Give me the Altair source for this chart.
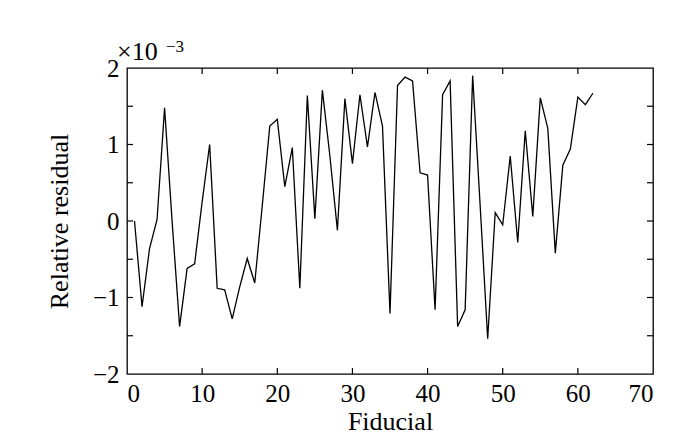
import altair as alt
import pandas as pd

# Relative residual (units of 1e-3) per fiducial index
fiducial = list(range(1, 63))
residual = [0.0, -1.12, -0.36, 0.02, 1.48, 0.0, -1.38, -0.62, -0.56, 0.25,
            1.0, -0.88, -0.9, -1.28, -0.86, -0.49, -0.81, 0.2, 1.24, 1.33,
            0.45, 0.96, -0.88, 1.64, 0.03, 1.71, 0.85, -0.12, 1.6, 0.75,
            1.65, 0.97, 1.68, 1.24, -1.21, 1.77, 1.88, 1.83, 0.63, 0.6,
            -1.16, 1.65, 1.83, -1.38, -1.16, 1.9, 0.2, -1.54, 0.11, -0.05,
            0.85, -0.28, 1.18, 0.06, 1.61, 1.21, -0.42, 0.73, 0.94, 1.62,
            1.52, 1.67]

x_labels = [0, 10, 20, 30, 40, 50, 60, 70]
y_labels = [-2, -1, 0, 1, 2]
x_ticks = [10, 20, 30, 40, 50, 60]
y_ticks = [-1.5, -1, -0.5, 0, 0.5, 1, 1.5]

W, H = 526, 306
FONT = "Liberation Serif"
TL = 6

df = pd.DataFrame({"x": fiducial, "y": residual})
dfx = pd.DataFrame({"x": x_ticks})
dfy = pd.DataFrame({"y": y_ticks})

xscale = alt.Scale(domain=[0, 70], nice=False, zero=False)
yscale = alt.Scale(domain=[-2, 2], nice=False, zero=False)

xaxis = alt.Axis(values=x_labels, format="d", labelPadding=7, titlePadding=2)
yaxis = alt.Axis(values=y_labels, format="d", labelPadding=8, titlePadding=20)

line = alt.Chart(df).mark_line(color="black", strokeWidth=1.3).encode(
    x=alt.X("x:Q", scale=xscale, axis=xaxis, title="Fiducial"),
    y=alt.Y("y:Q", scale=yscale, axis=yaxis, title="Relative residual"),
)

tick_style = dict(color="black", strokeWidth=1.2)
xb = alt.Chart(dfx).mark_rule(**tick_style).encode(
    x=alt.X("x:Q", scale=xscale, title="Fiducial"), y=alt.value(H), y2=alt.value(H - TL))
xt = alt.Chart(dfx).mark_rule(**tick_style).encode(
    x=alt.X("x:Q", scale=xscale, title="Fiducial"), y=alt.value(0), y2=alt.value(TL))
yl = alt.Chart(dfy).mark_rule(**tick_style).encode(
    y=alt.Y("y:Q", scale=yscale, title="Relative residual"), x=alt.value(0), x2=alt.value(TL))
yr = alt.Chart(dfy).mark_rule(**tick_style).encode(
    y=alt.Y("y:Q", scale=yscale, title="Relative residual"), x=alt.value(W - TL), x2=alt.value(W))

exp_base = alt.Chart(pd.DataFrame({"s": ["\u00d710"]})).mark_text(
    font=FONT, fontSize=26, align="left", baseline="alphabetic", color="black"
).encode(x=alt.value(-10), y=alt.value(-8), text="s:N")
exp_sup = alt.Chart(pd.DataFrame({"s": ["\u22123"]})).mark_text(
    font=FONT, fontSize=17, align="left", baseline="alphabetic", color="black"
).encode(x=alt.value(39), y=alt.value(-16), text="s:N")

chart = alt.layer(line, xb, xt, yl, yr, exp_base, exp_sup).properties(
    width=W, height=H,
    background="white",
    autosize=alt.AutoSizeParams(type="none"),
    padding={"left": 119, "top": 60, "right": 39, "bottom": 61},
).configure_view(
    stroke="black", strokeWidth=1.3
).configure_axis(
    ticks=False, domain=False, grid=False,
    labelFont=FONT, labelFontSize=25, labelColor="black",
    titleFont=FONT, titleFontSize=26, titleFontWeight="normal", titleColor="black",
)

chart.save("out.html", embed_options={"renderer": "svg", "actions": False})
